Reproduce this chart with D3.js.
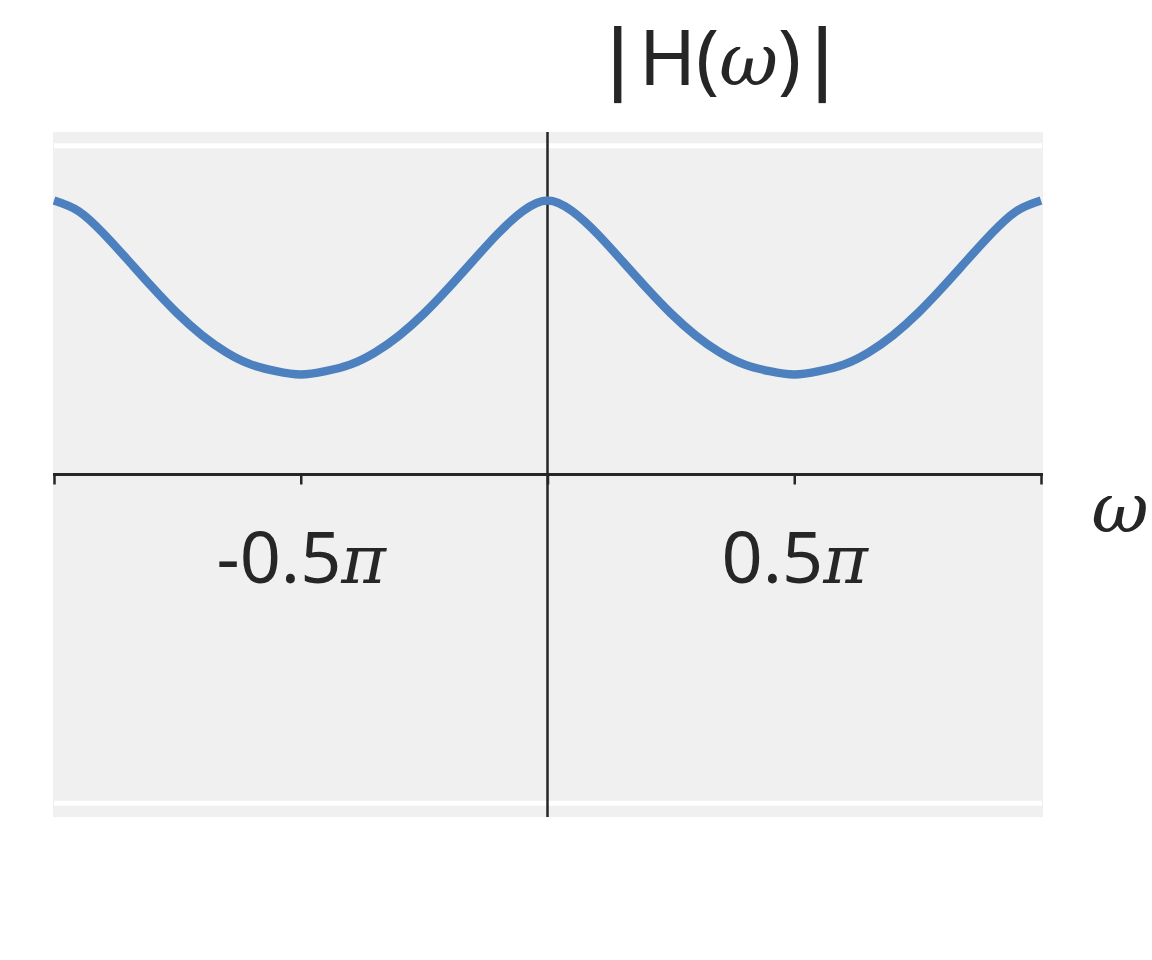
<!DOCTYPE html>
<html>
<head>
<meta charset="utf-8">
<script src="https://cdn.jsdelivr.net/npm/d3@7"></script>
<style>
  body { margin: 0; background: #fff; }
  svg { display: block; }
</style>
</head>
<body>
<svg id="chart"></svg>
<script>
// omega / pi, sampled along the curve
const omegaOverPi = [-1, -0.95, -0.9, -0.85, -0.8, -0.75, -0.7, -0.65, -0.6, -0.55,
  -0.5, -0.45, -0.4, -0.35, -0.3, -0.25, -0.2, -0.15, -0.1, -0.05,
  0, 0.05, 0.1, 0.15, 0.2, 0.25, 0.3, 0.35, 0.4, 0.45,
  0.5, 0.55, 0.6, 0.65, 0.7, 0.75, 0.8, 0.85, 0.9, 0.95, 1];
// |H(w)|
const magnitude = [1.0, 0.961, 0.880, 0.782, 0.682, 0.588, 0.508, 0.445, 0.401, 0.377,
  0.365, 0.377, 0.401, 0.445, 0.508, 0.588, 0.682, 0.782, 0.880, 0.961,
  1.0, 0.961, 0.880, 0.782, 0.682, 0.588, 0.508, 0.445, 0.401, 0.377,
  0.365, 0.377, 0.401, 0.445, 0.508, 0.588, 0.682, 0.782, 0.880, 0.961, 1.0];
const tickValues = [-1, -0.5, 0, 0.5, 1];
const tickLabels = ["", "-0.5", "", "0.5", ""];
const gridValues = [-1.2, 1.2];

const W = 1152, H = 960;
const plot = { left: 53, right: 1043, top: 132, bottom: 817 };
const ink = "#262626";
const sans = "'Noto Sans', 'Open Sans', sans-serif";
const mathItalic = "'DejaVu Serif', serif";

const svg = d3.select("#chart").attr("width", W).attr("height", H);

const x = d3.scaleLinear().domain([-Math.PI, Math.PI]).range([54, 1041]);
const y = d3.scaleLinear().domain([-1.25, 1.25]).range([plot.bottom, plot.top]);

const data = omegaOverPi.map((w, i) => ({ w: w * Math.PI, v: magnitude[i] }));

svg.append("rect")
  .attr("x", plot.left)
  .attr("y", plot.top)
  .attr("width", plot.right - plot.left)
  .attr("height", plot.bottom - plot.top)
  .attr("fill", "#f0f0f0");

svg.append("g").selectAll("line")
  .data(gridValues)
  .enter()
  .append("line")
  .attr("x1", plot.left + 1)
  .attr("x2", plot.right - 1)
  .attr("y1", d => y(d))
  .attr("y2", d => y(d))
  .attr("stroke", "#ffffff")
  .attr("stroke-width", 5);

// vertical axis through w = 0
svg.append("line")
  .attr("x1", x(0)).attr("x2", x(0))
  .attr("y1", plot.top).attr("y2", plot.bottom)
  .attr("stroke", ink)
  .attr("stroke-width", 2.5);

const xAxis = d3.axisBottom(x)
  .tickValues(tickValues.map(t => t * Math.PI))
  .tickSize(10)
  .tickPadding(47)
  .tickFormat("");

const gx = svg.append("g")
  .attr("transform", `translate(0,${y(0)})`)
  .call(xAxis);

gx.select(".domain").remove();
gx.append("line")
  .attr("x1", plot.left).attr("x2", plot.right)
  .attr("y1", 0).attr("y2", 0)
  .attr("stroke", ink)
  .attr("stroke-width", 3);
gx.selectAll(".tick line")
  .attr("stroke", ink)
  .attr("stroke-width", 2.5);

gx.selectAll(".tick text")
  .attr("fill", ink)
  .attr("font-family", sans)
  .attr("font-size", 72)
  .attr("dy", "0.71em")
  .each(function (d, i) {
    const t = d3.select(this);
    if (!tickLabels[i]) return;
    t.append("tspan").text(tickLabels[i]);
    t.append("tspan")
      .attr("font-family", mathItalic)
      .attr("font-style", "italic")
      .attr("font-size", 68)
      .text("π");
  });

// axis label
svg.append("text")
  .attr("x", 1120)
  .attr("y", 532)
  .attr("text-anchor", "middle")
  .attr("fill", ink)
  .attr("font-family", mathItalic)
  .attr("font-style", "italic")
  .attr("font-size", 70)
  .text("ω");

// title
const title = svg.append("text")
  .attr("x", 720)
  .attr("y", 85)
  .attr("text-anchor", "middle")
  .attr("fill", ink)
  .attr("font-family", sans)
  .attr("font-size", 77);
title.append("tspan").attr("font-weight", 600).text("|");
title.append("tspan").text("H(");
title.append("tspan").attr("font-family", mathItalic).attr("font-style", "italic").attr("font-size", 72).text("ω");
title.append("tspan").text(")");
title.append("tspan").attr("font-weight", 600).text("|");

const line = d3.line()
  .x(d => x(d.w))
  .y(d => y(d.v))
  .curve(d3.curveNatural);

svg.append("path")
  .datum(data)
  .attr("fill", "none")
  .attr("stroke", "#4c80bf")
  .attr("stroke-width", 8.5)
  .attr("stroke-linecap", "butt")
  .attr("d", line);
</script>
</body>
</html>
